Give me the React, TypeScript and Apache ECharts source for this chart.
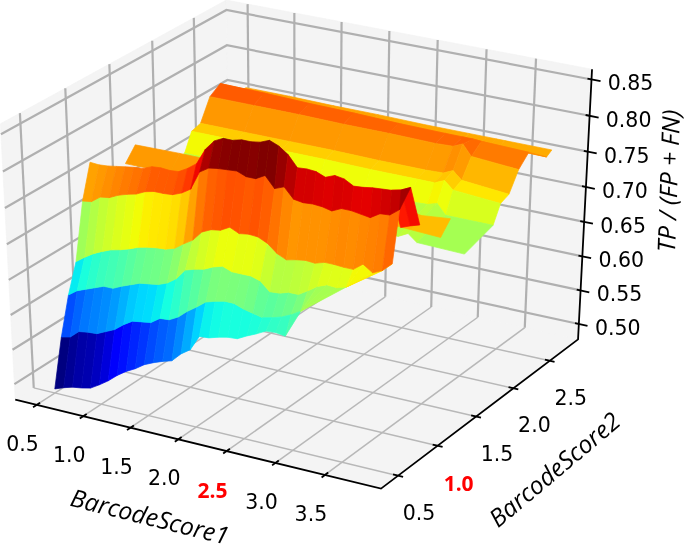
import React, { useEffect, useRef } from "react";
import * as echarts from "echarts";

// Axis limits of the 3D box
const xLimits = [0.27, 4.06];
const yLimits = [0.289, 2.9];
const zLimits = [0.477, 0.864];
const colorLimits = [0.519, 0.826];

const xTicks = [0.5, 1.0, 1.5, 2.0, 2.5, 3.0, 3.5];
const yTicks = [0.5, 1.0, 1.5, 2.0, 2.5];
const zTicks = [0.5, 0.55, 0.6, 0.65, 0.7, 0.75, 0.8, 0.85];
const xTickLabels = ["0.5", "1.0", "1.5", "2.0", "2.5", "3.0", "3.5"];
const yTickLabels = ["0.5", "1.0", "1.5", "2.0", "2.5"];
const zTickLabels = ["0.50", "0.55", "0.60", "0.65", "0.70", "0.75", "0.80", "0.85"];
const redXLabel = "2.5";
const redYLabel = "1.0";

// Front surface: each row has its own column positions
const frontColumns = [0.5, 0.6, 0.7, 0.8, 0.9, 1.0, 1.1, 1.2, 1.3, 1.4, 1.5, 1.6, 1.7, 1.8, 1.9, 2.0, 2.1, 2.2, 2.3, 2.4, 2.5, 2.6, 2.7, 2.8, 2.9, 3.0, 3.1, 3.2, 3.3, 3.4, 3.5, 3.6, 3.7, 3.8, 3.9, 4.0];
const frontColumnSqueeze = [0.97, 0.96, 0.955, 0.95, 0.945, 0.925, 0.93];
const frontYs = [0.5, 0.6, 0.7, 0.8, 0.9, 1.0, 1.1];
const frontRow05 = [0.483, 0.488, 0.492, 0.494, 0.497, 0.505, 0.514, 0.525, 0.534, 0.541, 0.55, 0.556, 0.561, 0.565, 0.578, 0.587, 0.609, 0.61, 0.614, 0.617, 0.618, 0.625, 0.631, 0.638, 0.639, 0.637];
const frontRow06 = [0.551, 0.554, 0.565, 0.567, 0.568, 0.574, 0.58, 0.59, 0.598, 0.6, 0.602, 0.611, 0.612, 0.619, 0.63, 0.639, 0.649, 0.653, 0.656, 0.656, 0.651, 0.648, 0.645, 0.648, 0.652, 0.658, 0.666];
const frontRow07 = [0.604, 0.613, 0.618, 0.623, 0.628, 0.628, 0.634, 0.639, 0.644, 0.646, 0.648, 0.653, 0.662, 0.677, 0.681, 0.684, 0.69, 0.694, 0.689, 0.689, 0.689, 0.685, 0.673, 0.674, 0.678, 0.678, 0.686, 0.695, 0.7, 0.699, 0.703];
const frontRow08 = [0.644, 0.653, 0.661, 0.667, 0.672, 0.675, 0.679, 0.684, 0.687, 0.689, 0.69, 0.694, 0.703, 0.711, 0.725, 0.731, 0.733, 0.74, 0.734, 0.736, 0.735, 0.729, 0.718, 0.712, 0.715, 0.717, 0.716, 0.72, 0.72, 0.719, 0.719, 0.729, 0.72, 0.726, 0.738];
const frontRow09 = [0.722, 0.724, 0.733, 0.735, 0.741, 0.745, 0.748, 0.754, 0.757, 0.757, 0.758, 0.763, 0.771, 0.797, 0.805, 0.807, 0.808, 0.809, 0.804, 0.804, 0.811, 0.796, 0.801, 0.787, 0.785, 0.786, 0.785, 0.782, 0.788, 0.788, 0.786, 0.784, 0.792, 0.793, 0.803];
const frontRow10 = [0.769, 0.768, 0.769, 0.771, 0.773, 0.775, 0.776, 0.781, 0.782, 0.781, 0.782, 0.789, 0.798, 0.82, 0.834, 0.84, 0.84, 0.843, 0.843, 0.845, 0.85, 0.845, 0.836, 0.821, 0.822, 0.821, 0.816, 0.821, 0.819, 0.812, 0.813, 0.815, 0.816, 0.817, 0.82, 0.826];
const frontRow11: (number | null)[] = [null, null, null, null, null, null, null, null, null, null, null, null, null, null, null, null, null, null, null, null, null, null, null, null, null, null, null, null, null, null, null, null, null, 0.76, 0.765, 0.769];

// Middle ridge
const ridgeXs = [0.5, 0.97, 1.45, 1.92, 2.4, 2.87, 3.15, 3.44, 3.73];
const ridgeYs = [1.4, 1.52];
const ridgeRowLow = [0.739, 0.739, 0.738, 0.737, 0.737, 0.736, 0.733, 0.731, 0.729];
const ridgeRowTop = [0.757, 0.758, 0.758, 0.757, 0.756, 0.754, 0.75, 0.742, 0.746];

// Back surface
const backXs = [0.5, 0.97, 1.45, 1.92, 2.39, 2.87, 3.05, 3.15, 3.24, 3.72];
const backYs = [1.73, 2.1, 2.19, 2.3, 2.42, 2.55, 2.8, 2.87];
const backRow173 = [0.69, 0.689, 0.688, 0.687, 0.687, 0.686, 0.686, 0.693, 0.683, 0.681];
const backRow210 = [0.705, 0.704, 0.704, 0.703, 0.703, 0.703, 0.704, 0.708, 0.694, 0.694];
const backRow219 = [0.73, 0.73, 0.729, 0.729, 0.728, 0.728, 0.728, 0.734, 0.723, 0.718];
const backRow230 = [0.734, 0.734, 0.734, 0.734, 0.733, 0.733, 0.734, 0.74, 0.729, 0.723];
const backRow242 = [0.764, 0.764, 0.764, 0.763, 0.763, 0.762, 0.763, 0.769, 0.754, 0.749];
const backRow255 = [0.774, 0.773, 0.771, 0.77, 0.768, 0.767, 0.767, 0.767, 0.766, 0.764];
const backRow280 = [0.747, 0.746, 0.745, 0.744, 0.743, 0.742, 0.742, 0.742, 0.741, 0.74];
const backRow287 = [0.747, 0.747, 0.746, 0.746, 0.745, 0.745, 0.745, 0.745, 0.745, 0.745];

const xTitle = "BarcodeScore1";
const yTitle = "BarcodeScore2";
const zTitle = "TP / (FP + FN)";

type P3 = [number, number, number];

// mplot3d camera: elevation 30, azimuth -60, distance 10, fitted to the page
const rad = Math.PI / 180;
const n: P3 = [Math.cos(-60 * rad) * Math.cos(30 * rad), Math.sin(-60 * rad) * Math.cos(30 * rad), Math.sin(30 * rad)];
const eye: P3 = [0.5 + 10 * n[0], 0.5 + 10 * n[1], 0.5 + 10 * n[2]];
const uLen = Math.hypot(n[0], n[1]);
const u: P3 = [-n[1] / uLen, n[0] / uLen, 0];
const v: P3 = [n[1] * u[2] - n[2] * u[1], n[2] * u[0] - n[0] * u[2], n[0] * u[1] - n[1] * u[0]];
const dot = (a: P3, b: P3) => a[0] * b[0] + a[1] * b[1] + a[2] * b[2];

function view(p: P3) {
  const q: P3 = [
    (p[0] - xLimits[0]) / (xLimits[1] - xLimits[0]) - eye[0],
    (p[1] - yLimits[0]) / (yLimits[1] - yLimits[0]) - eye[1],
    (p[2] - zLimits[0]) / (zLimits[1] - zLimits[0]) - eye[2],
  ];
  const d = -dot(q, n);
  return { sx: 301 + (4222 * dot(q, u)) / d, sy: 236 - (3150 * dot(q, v)) / d, d };
}
const project = (p: P3): [number, number] => {
  const r = view(p);
  return [r.sx, r.sy];
};

function jet(t0: number) {
  const t = Math.max(0, Math.min(1, t0));
  const seg = (pts: number[][]) => {
    for (let i = 1; i < pts.length; i++) {
      if (t <= pts[i][0]) {
        const f = (t - pts[i - 1][0]) / (pts[i][0] - pts[i - 1][0]);
        return pts[i - 1][1] + f * (pts[i][1] - pts[i - 1][1]);
      }
    }
    return pts[pts.length - 1][1];
  };
  const r = seg([[0, 0], [0.35, 0], [0.66, 1], [0.89, 1], [1, 0.5]]);
  const g = seg([[0, 0], [0.125, 0], [0.375, 1], [0.64, 1], [0.91, 0], [1, 0]]);
  const b = seg([[0, 0.5], [0.11, 1], [0.34, 1], [0.65, 0], [1, 0]]);
  return `rgb(${Math.round(r * 255)},${Math.round(g * 255)},${Math.round(b * 255)})`;
}

type Cell = { pts: P3[]; depth: number; fill: string };

function makeCell(pts: P3[]): Cell {
  const zAvg = pts.reduce((s, p) => s + p[2], 0) / pts.length;
  const depth = pts.reduce((s, p) => s + view(p).d, 0) / pts.length;
  return { pts, depth, fill: jet((zAvg - colorLimits[0]) / (colorLimits[1] - colorLimits[0])) };
}

function surfaceCells(xsOf: (row: number, col: number) => number, count: number, ys: number[], rows: (number | null)[][]): Cell[] {
  const cells: Cell[] = [];
  for (let i = 0; i + 1 < rows.length; i++) {
    const a = rows[i];
    const b = rows[i + 1];
    for (let j = 0; j + 1 < count; j++) {
      const z00 = a[j], z01 = a[j + 1], z10 = b[j], z11 = b[j + 1];
      if (z00 == null || z01 == null || z10 == null || z11 == null) continue;
      cells.push(makeCell([[xsOf(i, j), ys[i], z00], [xsOf(i, j + 1), ys[i], z01], [xsOf(i + 1, j + 1), ys[i + 1], z11], [xsOf(i + 1, j), ys[i + 1], z10]]));
    }
    // where the next row runs further than this one, close the gap with triangles
    if (b.length > a.length && a[a.length - 1] != null) {
      const last = a.length - 1;
      for (let j = last; j + 1 < b.length; j++) {
        const z10 = b[j], z11 = b[j + 1];
        if (z10 == null || z11 == null) continue;
        cells.push(makeCell([[xsOf(i, last), ys[i], a[last] as number], [xsOf(i + 1, j + 1), ys[i + 1], z11], [xsOf(i + 1, j), ys[i + 1], z10]]));
      }
    }
  }
  return cells;
}

const frontX = (row: number, col: number) => 0.5 + (frontColumns[col] - 0.5) * frontColumnSqueeze[row];

const cells = [
  ...surfaceCells(frontX, frontColumns.length, frontYs, [frontRow05, frontRow06, frontRow07, frontRow08, frontRow09, frontRow10, frontRow11]),
  ...surfaceCells((_, c) => ridgeXs[c], ridgeXs.length, ridgeYs, [ridgeRowLow, ridgeRowTop]),
  ...surfaceCells((_, c) => backXs[c], backXs.length, backYs, [backRow173, backRow210, backRow219, backRow230, backRow242, backRow255, backRow280, backRow287]),
].sort((a, b) => b.depth - a.depth);

const [x0, x1] = xLimits;
const [y0, y1] = yLimits;
const [z0, z1] = zLimits;

const panes: P3[][] = [
  [[x0, y0, z0], [x1, y0, z0], [x1, y1, z0], [x0, y1, z0]],
  [[x0, y0, z0], [x0, y1, z0], [x0, y1, z1], [x0, y0, z1]],
  [[x0, y1, z0], [x1, y1, z0], [x1, y1, z1], [x0, y1, z1]],
];

const floorGrid: P3[][] = [
  ...xTicks.map((t): P3[] => [[t, y0, z0], [t, y1, z0]]),
  ...yTicks.map((t): P3[] => [[x1, t, z0], [x0, t, z0]]),
];
const wallGrid: P3[][] = [
  ...xTicks.map((t): P3[] => [[t, y1, z0], [t, y1, z1]]),
  ...yTicks.map((t): P3[] => [[x0, t, z0], [x0, t, z1]]),
  ...zTicks.map((t): P3[] => [[x0, y0, t], [x0, y1, t], [x1, y1, t]]),
];

const axisPaths: P3[][] = [
  [[x0, y0, z0], [x1, y0, z0], [x1, y1, z0], [x1, y1, z1]],
  ...xTicks.map((t): P3[] => [[t, y0 - 0.04, z0], [t, y0 + 0.04, z0]]),
  ...yTicks.map((t): P3[] => [[x1 - 0.05, t, z0], [x1 + 0.05, t, z0]]),
  ...zTicks.map((t): P3[] => [[x1 - 0.04, y1, t], [x1 + 0.09, y1, t]]),
];

type Label = { text: string; pos: [number, number]; rotation: number; red?: boolean; title?: boolean };
const labels: Label[] = [
  ...xTicks.map((t, i): Label => {
    const p = project([t, y0, z0]);
    return { text: xTickLabels[i], pos: [p[0] - 14, p[1] + 39], rotation: 0, red: xTickLabels[i] === redXLabel };
  }),
  ...yTicks.map((t, i): Label => {
    const p = project([x1, t, z0]);
    return { text: yTickLabels[i], pos: [p[0] + 21, p[1] + 37], rotation: 0, red: yTickLabels[i] === redYLabel };
  }),
  ...zTicks.map((t, i): Label => {
    const p = project([x1, y1, t]);
    return { text: zTickLabels[i], pos: [p[0] + 39, p[1] + 4], rotation: 0 };
  }),
  { text: xTitle, pos: [150, 516], rotation: -14 * rad, title: true },
  { text: yTitle, pos: [554, 469], rotation: 40 * rad, title: true },
  { text: zTitle, pos: [668, 181], rotation: 88 * rad, title: true },
];

export default function App() {
  const ref = useRef<HTMLDivElement>(null);
  useEffect(() => {
    if (!ref.current) return;
    const chart = echarts.init(ref.current, undefined, { renderer: "svg" });
    const polygonSeries = (z: number, items: { pts: P3[]; fill: string }[]) => ({
      type: "custom",
      z,
      silent: true,
      clip: false,
      coordinateSystem: "cartesian2d",
      data: items.map((_, i) => [i, 0]),
      renderItem: (params: any, api: any) => {
        const item = items[params.dataIndex];
        return {
          type: "polygon",
          shape: { points: item.pts.map((p) => api.coord(project(p))) },
          style: { fill: item.fill, stroke: item.fill, lineWidth: 0.7 },
        };
      },
    });
    const lineSeries = (z: number, paths: P3[][], stroke: string, width: number) => ({
      type: "custom",
      z,
      silent: true,
      clip: false,
      coordinateSystem: "cartesian2d",
      data: paths.map((_, i) => [i, 0]),
      renderItem: (params: any, api: any) => ({
        type: "polyline",
        shape: { points: paths[params.dataIndex].map((p) => api.coord(project(p))) },
        style: { fill: "none", stroke, lineWidth: width, lineJoin: "miter" },
      }),
    });
    chart.setOption({
      animation: false,
      grid: { left: 0, top: 0, right: 0, bottom: 0 },
      xAxis: { type: "value", min: 0, max: 685, show: false },
      yAxis: { type: "value", min: 0, max: 550, inverse: true, show: false },
      series: [
        polygonSeries(1, panes.map((pts) => ({ pts, fill: "#f4f4f4" }))),
        lineSeries(2, floorGrid, "#b8b8b8", 1.5),
        lineSeries(2, wallGrid, "#b0b0b0", 2.2),
        polygonSeries(3, cells),
        lineSeries(4, axisPaths, "#000000", 1.8),
        {
          type: "custom",
          z: 5,
          silent: true,
          clip: false,
          coordinateSystem: "cartesian2d",
          data: labels.map((_, i) => [i, 0]),
          renderItem: (params: any, api: any) => {
            const l = labels[params.dataIndex];
            const c = api.coord(l.pos);
            return {
              type: "text",
              x: c[0],
              y: c[1],
              rotation: l.rotation,
              style: {
                text: l.text,
                align: "center",
                verticalAlign: "middle",
                fill: l.red ? "#ff0000" : "#000000",
                fontFamily: l.red || l.title ? "Open Sans" : "DejaVu Sans",
                fontStyle: l.title ? "italic" : "normal",
                fontWeight: l.red ? "bold" : "normal",
                fontSize: l.title ? 24.5 : l.red ? 21 : 20.5,
                lineHeight: l.title ? 20 : 24,
              },
            };
          },
        },
      ],
    });
    return () => chart.dispose();
  }, []);
  return <div ref={ref} style={{ position: "fixed", left: 0, top: 0, width: 685, height: 550 }} />;
}
